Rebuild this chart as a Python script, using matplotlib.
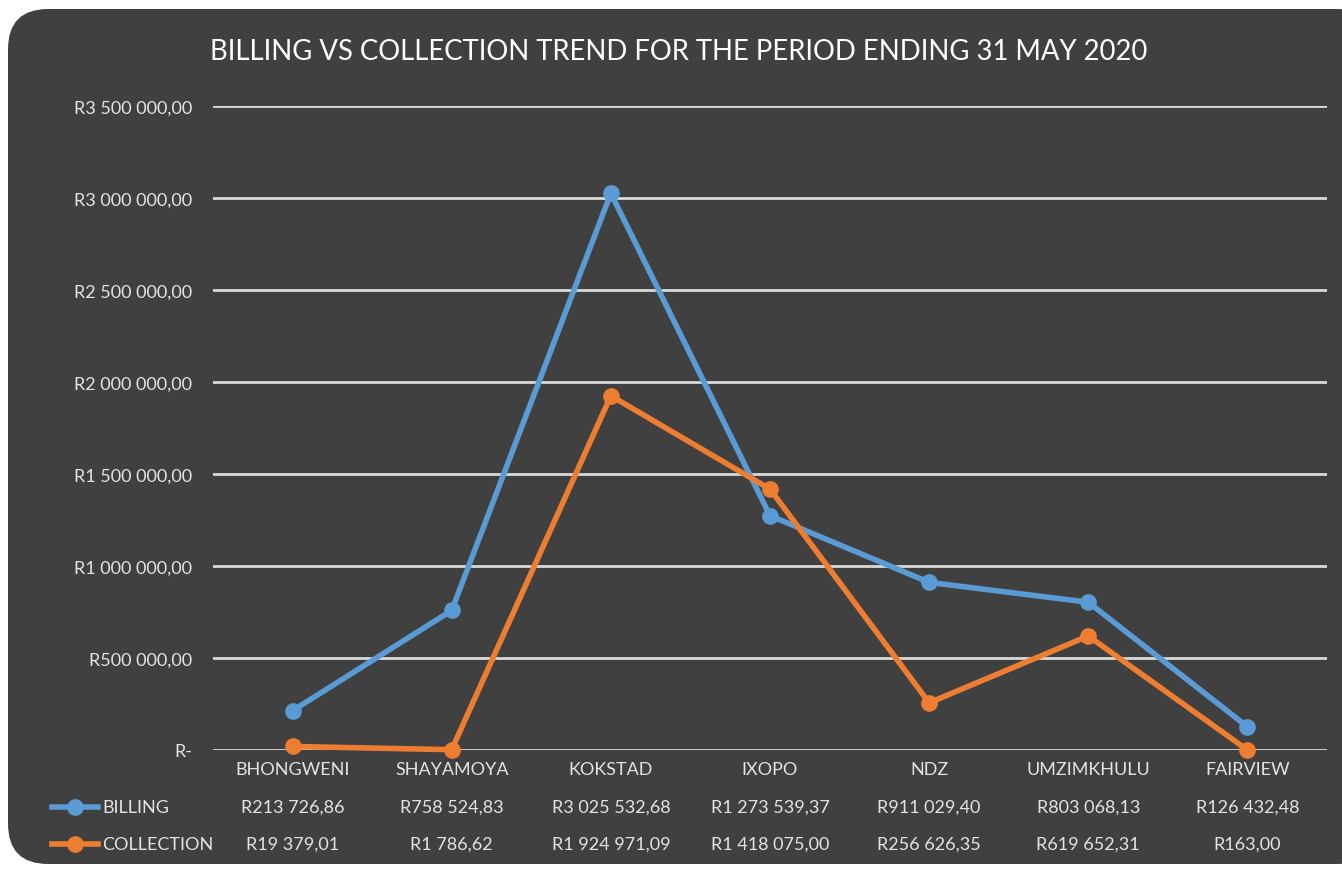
import matplotlib.pyplot as plt
from matplotlib.patches import FancyBboxPatch
from matplotlib.lines import Line2D
from matplotlib.transforms import blended_transform_factory

plt.rcParams["font.family"] = ["Lato", "DejaVu Sans"]

regions = ["BHONGWENI", "SHAYAMOYA", "KOKSTAD", "IXOPO", "NDZ", "UMZIMKHULU", "FAIRVIEW"]
billing = [213726.86, 758524.83, 3025532.68, 1273539.37, 911029.40, 803068.13, 126432.48]
collection = [19379.01, 1786.62, 1924971.09, 1418075.00, 256626.35, 619652.31, 163.00]
y_ticks = [0, 500000, 1000000, 1500000, 2000000, 2500000, 3000000, 3500000]

BLUE = "#5B9BD5"
ORANGE = "#ED7D31"
BG = "#404040"
TXT = "#E3E3E3"
FS = 13


def rand(v):
    if v == 0:
        return "R-"
    s = f"{v:,.2f}".replace(",", " ").replace(".", ",")
    return "R" + s


fig = plt.figure(figsize=(13.42, 8.7), dpi=100)
fig.patch.set_facecolor("white")
fig.patches.append(FancyBboxPatch((8 / 1342, 5 / 870), 1.02, 855 / 870,
                                  boxstyle="round,pad=0,rounding_size=0.03",
                                  transform=fig.transFigure, facecolor=BG,
                                  edgecolor="none", mutation_aspect=1342 / 870,
                                  zorder=-5))

ax = fig.add_axes([213 / 1342, 1 - 751 / 870, 1114 / 1342, 644 / 870])
ax.set_zorder(2)
ax.set_facecolor("none")
x = list(range(len(regions)))
ax.set_xlim(-0.5, len(regions) - 0.5)
ax.set_ylim(0, 3500000)
ax.set_yticks(y_ticks)
ax.set_yticklabels([rand(v) for v in y_ticks], color=TXT, fontsize=FS)
ax.tick_params(axis="y", length=0, pad=15)
ax.set_xticks([])
for s in ax.spines.values():
    s.set_visible(False)
ax.grid(axis="y", color="#D9D9D9", linewidth=2)
ax.set_axisbelow(True)

ax.plot(x, billing, color=BLUE, lw=4, marker="o", ms=11, zorder=3, clip_on=False)
ax.plot(x, collection, color=ORANGE, lw=4, marker="o", ms=11, zorder=4, clip_on=False)

fig.text(679 / 1342, 1 - 52 / 870, "BILLING VS COLLECTION TREND FOR THE PERIOD ENDING 31 MAY 2020",
         ha="center", va="center", color="white", fontsize=19.8)

# data table under the axis
tr = blended_transform_factory(ax.transData, fig.transFigure)
for i, name in enumerate(regions):
    fig.text(i, 1 - 770 / 870, name, transform=tr, ha="center", va="center",
             color=TXT, fontsize=FS)
    fig.text(i, 1 - 808 / 870, rand(billing[i]), transform=tr, ha="center",
             va="center", color=TXT, fontsize=FS)
    fig.text(i, 1 - 845 / 870, rand(collection[i]), transform=tr, ha="center",
             va="center", color=TXT, fontsize=FS)

for yy, lab, col in [(808, "BILLING", BLUE), (845, "COLLECTION", ORANGE)]:
    yf = 1 - yy / 870
    fig.lines.append(Line2D([52 / 1342, 98 / 1342], [yf, yf], transform=fig.transFigure,
                            color=col, lw=4))
    fig.lines.append(Line2D([75 / 1342], [yf], transform=fig.transFigure,
                            color=col, marker="o", ms=11))
    fig.text(102 / 1342, yf, lab, ha="left", va="center", color=TXT, fontsize=FS)

fig.savefig("out.png", dpi=100, facecolor=fig.get_facecolor())
